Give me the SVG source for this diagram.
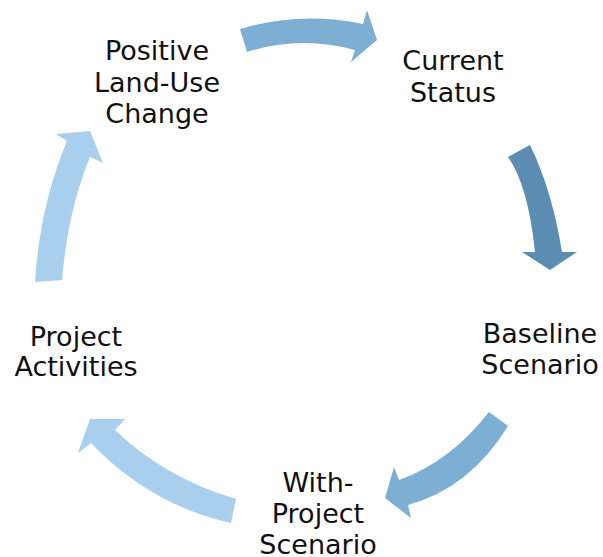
<svg xmlns="http://www.w3.org/2000/svg" width="603" height="557" viewBox="0 0 603 557">
<style>
.t{font-family:"DejaVu Sans","Liberation Sans",sans-serif;font-size:27px;fill:#111;text-anchor:middle}
.a1{fill:#7DAFD5}.a2{fill:#5B8DB3}.a3{fill:#A9CFEF}
</style>
<rect width="603" height="557" fill="#fff"/>
<g id="connectors">
<path class="a1" d="M240,29 Q300,11 363,24 L367,10 L377,40 L351,62 L355,50 Q300,35 247,52 Z"/>
<path class="a2" d="M508,157 L530,145 Q552,190 562,252 L577,252 L550,270 L522,252 L535,252 Q528,185 508,157 Z"/>
<path class="a1" d="M489,412 L508,426 Q470,488 408,505 L411,518 L385,498 L394,467 L399,480 Q450,462 489,412 Z"/>
<path class="a3" d="M236,499 L231,523 Q150,505 91,443 L78,453 L90,419 L125,419 L115,430 Q165,478 236,499 Z"/>
<path class="a3" d="M35,282 Q40,205 67,141 L56,134 L90,131 L103,163 L90,157 Q68,210 62,280 Z"/>
</g>
<g id="current-status"><text class="t" x="453" y="70">Current</text><text class="t" x="453" y="102">Status</text></g>
<g id="baseline-scenario"><text class="t" x="540" y="343">Baseline</text><text class="t" x="540" y="374">Scenario</text></g>
<g id="with-project-scenario"><text class="t" x="318" y="492">With-</text><text class="t" x="318" y="523">Project</text><text class="t" x="318" y="554">Scenario</text></g>
<g id="project-activities"><text class="t" x="76" y="346">Project</text><text class="t" x="76" y="376">Activities</text></g>
<g id="positive-land-use-change"><text class="t" x="157" y="60">Positive</text><text class="t" x="157" y="92">Land-Use</text><text class="t" x="157" y="123">Change</text></g>
</svg>
